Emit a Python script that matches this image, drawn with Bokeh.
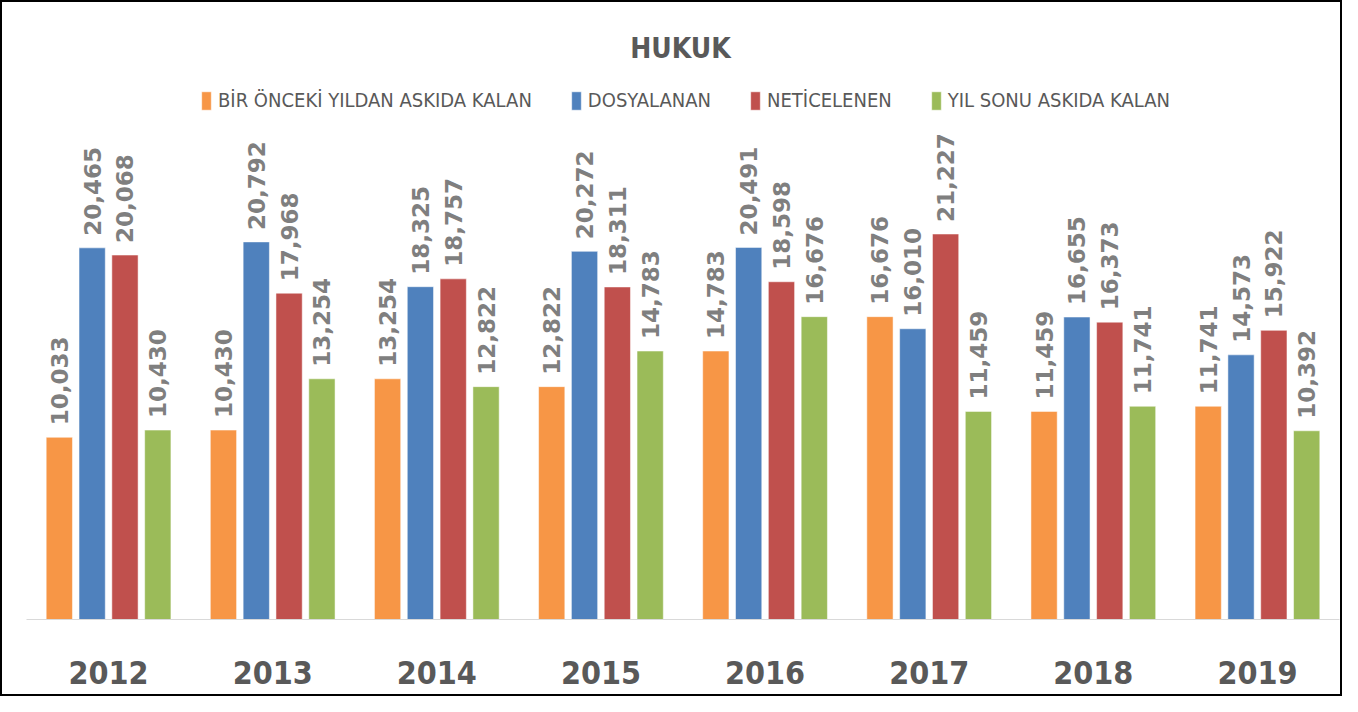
from bokeh.plotting import figure
from bokeh.models import ColumnDataSource, FactorRange, Range1d, Legend, LegendItem, Label
from bokeh.transform import dodge
from bokeh.core.properties import value
from bokeh.embed import file_html
from bokeh.resources import INLINE
import math

years = ["2012", "2013", "2014", "2015", "2016", "2017", "2018", "2019"]
series_names = ["BİR ÖNCEKİ YILDAN ASKIDA KALAN", "DOSYALANAN", "NETİCELENEN", "YIL SONU ASKIDA KALAN"]
onceki = [10033, 10430, 13254, 12822, 14783, 16676, 11459, 11741]
dosyalanan = [20465, 20792, 18325, 20272, 20491, 16010, 16655, 14573]
neticelenen = [20068, 17968, 18757, 18311, 18598, 21227, 16373, 15922]
yil_sonu = [10430, 13254, 12822, 14783, 16676, 11459, 11741, 10392]
colors = ["#F79646", "#4F81BD", "#C0504D", "#9BBB59"]
offsets = [-0.3, -0.1, 0.1, 0.3]

NARROW = "DejaVu Sans Condensed"

p = figure(x_range=FactorRange(*years, range_padding=0), y_range=Range1d(0, 33700),
           width=1338, height=692, output_backend="svg", toolbar_location=None,
           min_border_left=24, min_border_right=5, min_border_top=5, min_border_bottom=79)
p.styles = {"border": "2px solid #000000", "box-sizing": "content-box"}
p.outline_line_color = None
p.xgrid.visible = False
p.ygrid.visible = False
p.yaxis.visible = False

data = dict(years=years)
for i, vals in enumerate([onceki, dosyalanan, neticelenen, yil_sonu]):
    data[f"v{i}"] = vals
    data[f"t{i}"] = [f"{v:,}" for v in vals]
src = ColumnDataSource(data)

renderers = []
for i in range(4):
    r = p.vbar(x=dodge("years", offsets[i], range=p.x_range), top=f"v{i}", width=0.16,
               source=src, fill_color=colors[i], line_color="#ffffff", line_alpha=0.5, line_width=1)
    renderers.append(r)
    p.text(x=dodge("years", offsets[i], range=p.x_range), y=f"v{i}", text=f"t{i}", source=src,
           angle=math.pi / 2, text_align="left", text_baseline="middle", y_offset=-12,
           text_font=value("DejaVu Sans"), text_font_style="bold", text_font_size="23px",
           text_color="#7f7f7f")

ax = p.xaxis[0]
ax.axis_line_color = "#d9d9d9"
ax.axis_line_width = 1
ax.major_tick_line_color = None
ax.minor_tick_line_color = None
ax.major_label_text_font = NARROW
ax.major_label_text_font_style = "bold"
ax.major_label_text_font_size = "32px"
ax.major_label_text_color = "#595959"
ax.major_label_standoff = 35

legend = Legend(items=[LegendItem(label=series_names[i], renderers=[renderers[i]]) for i in range(4)],
                orientation="horizontal", location=(174, 507),
                glyph_width=12, glyph_height=23, label_standoff=6, spacing=38,
                padding=0, margin=0, border_line_color=None, background_fill_alpha=0,
                label_text_font=NARROW, label_text_font_size="20px", label_text_color="#595959")
p.add_layout(legend, "center")

title = Label(x=654, y=571, x_units="screen", y_units="screen", text="HUKUK",
              text_align="center", text_baseline="alphabetic", text_font=NARROW,
              text_font_style="bold", text_font_size="28px", text_color="#595959")
p.add_layout(title)

open("out.html", "w").write(file_html(p, INLINE))
